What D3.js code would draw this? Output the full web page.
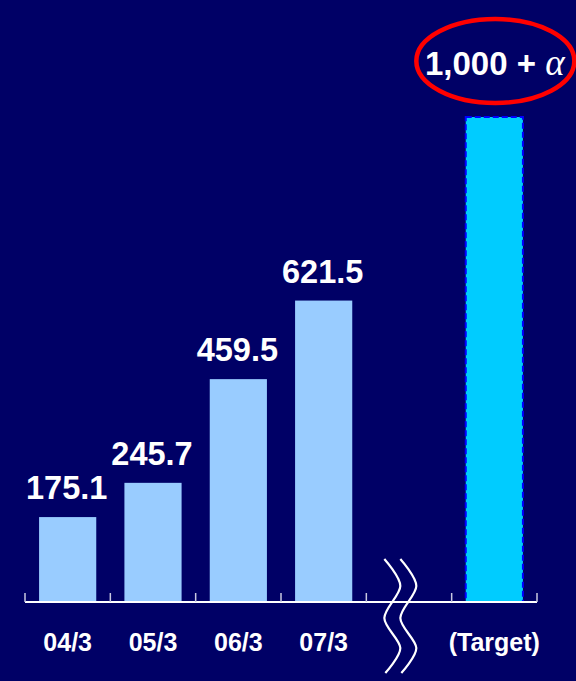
<!DOCTYPE html>
<html>
<head>
<meta charset="utf-8">
<script src="https://cdn.jsdelivr.net/npm/d3@7"></script>
<style>
  html, body { margin: 0; padding: 0; background: #000066; }
  svg { display: block; }
</style>
</head>
<body>
<div id="chart"></div>
<script>
// data
var categories = ["04/3", "05/3", "06/3", "07/3"];
var values = [175.1, 245.7, 459.5, 621.5];
var valueLabels = ["175.1", "245.7", "459.5", "621.5"];
var targetCategory = "(Target)";
var targetValue = 1000;
var targetLabel = "1,000 + ";
var targetSymbol = "\u03b1";
var breakCategory = "break";

var width = 576, height = 681;
var axisY = 602;

var svg = d3.select("#chart").append("svg")
  .attr("width", width)
  .attr("height", height);

svg.append("rect")
  .attr("width", width)
  .attr("height", height)
  .attr("fill", "#000066");

// x scale: 4 years, a break slot, then target
var xScale = d3.scaleBand()
  .domain(categories.concat([breakCategory, targetCategory]))
  .range([25, 537])
  .paddingInner(0.33)
  .paddingOuter(0.165);

// y scale
var yScale = d3.scaleLinear()
  .domain([0, 1000])
  .range([axisY, 117]);

var step = xScale.step();

// bars
svg.selectAll(".bar")
  .data(values)
  .enter().append("rect")
  .attr("class", "bar")
  .attr("x", function(d, i) { return xScale(categories[i]); })
  .attr("y", function(d) { return yScale(d); })
  .attr("width", xScale.bandwidth())
  .attr("height", function(d) { return yScale(0) - yScale(d); })
  .attr("fill", "#99ccff");

// target bar
svg.append("rect")
  .attr("x", xScale(targetCategory))
  .attr("y", yScale(targetValue))
  .attr("width", xScale.bandwidth())
  .attr("height", yScale(0) - yScale(targetValue))
  .attr("fill", "#00ccff")
  .attr("stroke", "#0000ff")
  .attr("stroke-width", 2)
  .attr("stroke-dasharray", "6,3");

// value labels
svg.selectAll(".val")
  .data(values)
  .enter().append("text")
  .attr("class", "val")
  .attr("x", function(d, i) { return xScale(categories[i]) + xScale.bandwidth() / 2 - 1; })
  .attr("y", function(d) { return yScale(d) - 18; })
  .attr("text-anchor", "middle")
  .attr("fill", "#ffffff")
  .style("font-family", "'Liberation Sans', Arial, sans-serif")
  .style("font-weight", "bold")
  .style("font-size", "32.5px")
  .text(function(d, i) { return valueLabels[i]; });

// axis line and ticks
svg.append("line")
  .attr("x1", xScale.range()[0])
  .attr("x2", xScale.range()[1])
  .attr("y1", axisY)
  .attr("y2", axisY)
  .attr("stroke", "#ffffff")
  .attr("stroke-width", 2);

var tickIdx = d3.range(xScale.domain().length + 1);
svg.selectAll(".tick")
  .data(tickIdx)
  .enter().append("line")
  .attr("class", "tick")
  .attr("x1", function(i) { return xScale.range()[0] + i * step; })
  .attr("x2", function(i) { return xScale.range()[0] + i * step; })
  .attr("y1", axisY - 9)
  .attr("y2", axisY)
  .attr("stroke", "#c8c8e0")
  .attr("stroke-width", 1.5);

// category labels
var allCats = categories.concat([targetCategory]);
svg.selectAll(".cat")
  .data(allCats)
  .enter().append("text")
  .attr("class", "cat")
  .attr("x", function(d) { return xScale(d) + xScale.bandwidth() / 2; })
  .attr("y", axisY + 49)
  .attr("text-anchor", "middle")
  .attr("fill", "#ffffff")
  .style("font-family", "'Liberation Sans', Arial, sans-serif")
  .style("font-weight", "bold")
  .style("font-size", "25px")
  .text(function(d) { return d; });

// break symbol (two wavy lines)
var bx = xScale.range()[0] + 4 * step + 18;
var wave = [[0, -43], [16, -16], [0, 16], [16, 46], [1, 71]];
var waveLine = d3.line()
  .x(function(d) { return d[0]; })
  .y(function(d) { return axisY + d[1]; })
  .curve(d3.curveCardinal.tension(0.1));
[0, 16].forEach(function(off) {
  svg.append("path")
    .attr("d", waveLine(wave))
    .attr("transform", "translate(" + (bx + off) + ",0)")
    .attr("fill", "none")
    .attr("stroke", "#ffffff")
    .attr("stroke-width", 2.2);
});

// target label with ellipse
var tcx = xScale(targetCategory) + xScale.bandwidth() / 2;
svg.append("ellipse")
  .attr("cx", tcx + 1)
  .attr("cy", 61)
  .attr("rx", 79)
  .attr("ry", 42)
  .attr("fill", "none")
  .attr("stroke", "#ff0000")
  .attr("stroke-width", 4.5);

var tl = svg.append("text")
  .attr("x", 425)
  .attr("y", 75)
  .attr("fill", "#ffffff")
  .style("font-family", "'Liberation Sans', Arial, sans-serif")
  .style("font-weight", "bold")
  .style("font-size", "33px")
  .style("white-space", "pre");
tl.append("tspan").text(targetLabel);
tl.append("tspan")
  .style("font-family", "'Liberation Serif', 'Times New Roman', serif")
  .style("font-style", "italic")
  .style("font-weight", "normal")
  .style("font-size", "37px")
  .text(targetSymbol);
</script>
</body>
</html>
